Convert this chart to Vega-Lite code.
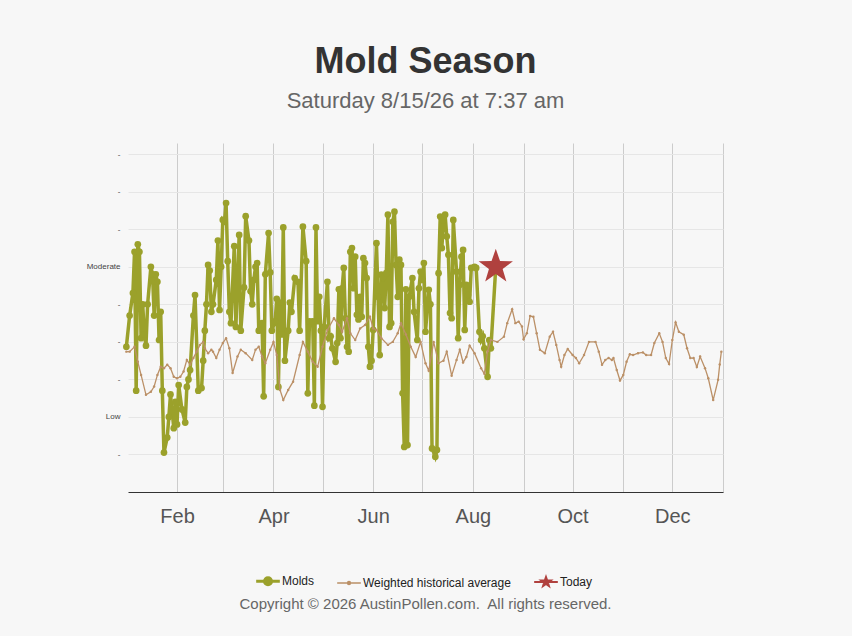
{
  "$schema": "https://vega.github.io/schema/vega-lite/v6.json",
  "background": "#f7f7f7",
  "autosize": "none",
  "padding": {"left": 128, "top": 143, "right": 129, "bottom": 144},
  "width": 595,
  "height": 349,
  "title": {
    "text": "Mold Season",
    "subtitle": "Saturday 8/15/26 at 7:37 am",
    "anchor": "middle",
    "font": "Liberation Sans",
    "fontSize": 36,
    "fontWeight": "bold",
    "color": "#333333",
    "subtitleFont": "Liberation Sans",
    "subtitleFontSize": 22,
    "subtitleColor": "#666666",
    "subtitlePadding": 10,
    "offset": 30
  },
  "datasets": {
    "molds": [
      {"date": "2026/01/01", "v": 3.87}, {"date": "2026/01/03", "v": 4.7}, {"date": "2026/01/05", "v": 5.3},
      {"date": "2026/01/06", "v": 6.4}, {"date": "2026/01/07", "v": 2.7}, {"date": "2026/01/08", "v": 6.6},
      {"date": "2026/01/09", "v": 6.4}, {"date": "2026/01/10", "v": 4.1}, {"date": "2026/01/11", "v": 5.0},
      {"date": "2026/01/12", "v": 4.2}, {"date": "2026/01/13", "v": 3.9}, {"date": "2026/01/14", "v": 5.0},
      {"date": "2026/01/16", "v": 6.0}, {"date": "2026/01/17", "v": 5.8}, {"date": "2026/01/18", "v": 4.7},
      {"date": "2026/01/19", "v": 5.8}, {"date": "2026/01/20", "v": 5.6}, {"date": "2026/01/21", "v": 4.05},
      {"date": "2026/01/22", "v": 4.8}, {"date": "2026/01/23", "v": 2.7}, {"date": "2026/01/24", "v": 1.05},
      {"date": "2026/01/26", "v": 1.45}, {"date": "2026/01/27", "v": 2.0}, {"date": "2026/01/28", "v": 2.6},
      {"date": "2026/01/30", "v": 1.7}, {"date": "2026/01/31", "v": 2.4}, {"date": "2026/02/01", "v": 1.8},
      {"date": "2026/02/02", "v": 2.85}, {"date": "2026/02/04", "v": 2.2}, {"date": "2026/02/06", "v": 1.85},
      {"date": "2026/02/07", "v": 2.8}, {"date": "2026/02/08", "v": 3.0}, {"date": "2026/02/09", "v": 3.25},
      {"date": "2026/02/11", "v": 4.7}, {"date": "2026/02/12", "v": 5.25}, {"date": "2026/02/14", "v": 2.7},
      {"date": "2026/02/16", "v": 2.77}, {"date": "2026/02/17", "v": 3.5}, {"date": "2026/02/18", "v": 4.3},
      {"date": "2026/02/19", "v": 5.0}, {"date": "2026/02/20", "v": 6.05}, {"date": "2026/02/21", "v": 5.9},
      {"date": "2026/02/22", "v": 4.8}, {"date": "2026/02/23", "v": 5.0}, {"date": "2026/02/25", "v": 5.65},
      {"date": "2026/02/26", "v": 6.7}, {"date": "2026/02/27", "v": 4.85}, {"date": "2026/02/28", "v": 6.0},
      {"date": "2026/03/01", "v": 7.25}, {"date": "2026/03/02", "v": 7.2}, {"date": "2026/03/03", "v": 7.7},
      {"date": "2026/03/04", "v": 6.15}, {"date": "2026/03/05", "v": 4.8}, {"date": "2026/03/06", "v": 4.5},
      {"date": "2026/03/08", "v": 6.55}, {"date": "2026/03/09", "v": 4.4}, {"date": "2026/03/11", "v": 6.85},
      {"date": "2026/03/12", "v": 4.3}, {"date": "2026/03/14", "v": 5.45}, {"date": "2026/03/15", "v": 7.35},
      {"date": "2026/03/17", "v": 6.7}, {"date": "2026/03/18", "v": 5.35}, {"date": "2026/03/19", "v": 5.0},
      {"date": "2026/03/20", "v": 5.65}, {"date": "2026/03/21", "v": 6.0}, {"date": "2026/03/22", "v": 6.1},
      {"date": "2026/03/23", "v": 4.3}, {"date": "2026/03/25", "v": 4.5}, {"date": "2026/03/26", "v": 2.55},
      {"date": "2026/03/27", "v": 5.8}, {"date": "2026/03/29", "v": 6.9}, {"date": "2026/03/30", "v": 5.85},
      {"date": "2026/03/31", "v": 4.3}, {"date": "2026/04/02", "v": 4.55}, {"date": "2026/04/03", "v": 5.15},
      {"date": "2026/04/04", "v": 2.8}, {"date": "2026/04/05", "v": 5.05}, {"date": "2026/04/06", "v": 4.2},
      {"date": "2026/04/07", "v": 7.05}, {"date": "2026/04/08", "v": 3.5}, {"date": "2026/04/10", "v": 4.3},
      {"date": "2026/04/11", "v": 5.05}, {"date": "2026/04/12", "v": 4.8}, {"date": "2026/04/14", "v": 5.7},
      {"date": "2026/04/16", "v": 5.6}, {"date": "2026/04/17", "v": 4.3}, {"date": "2026/04/19", "v": 7.07},
      {"date": "2026/04/21", "v": 6.15}, {"date": "2026/04/22", "v": 2.63}, {"date": "2026/04/23", "v": 4.55},
      {"date": "2026/04/25", "v": 4.55}, {"date": "2026/04/26", "v": 2.3}, {"date": "2026/04/27", "v": 7.05},
      {"date": "2026/04/28", "v": 4.55}, {"date": "2026/04/29", "v": 5.2}, {"date": "2026/04/30", "v": 4.3},
      {"date": "2026/05/01", "v": 2.27}, {"date": "2026/05/02", "v": 4.4}, {"date": "2026/05/04", "v": 5.6},
      {"date": "2026/05/05", "v": 4.1}, {"date": "2026/05/06", "v": 4.15}, {"date": "2026/05/07", "v": 3.83},
      {"date": "2026/05/09", "v": 3.47}, {"date": "2026/05/10", "v": 3.97}, {"date": "2026/05/11", "v": 5.4},
      {"date": "2026/05/12", "v": 4.1}, {"date": "2026/05/13", "v": 5.43}, {"date": "2026/05/14", "v": 5.97},
      {"date": "2026/05/15", "v": 4.63}, {"date": "2026/05/16", "v": 3.87}, {"date": "2026/05/17", "v": 3.74},
      {"date": "2026/05/18", "v": 6.4}, {"date": "2026/05/19", "v": 6.5}, {"date": "2026/05/20", "v": 5.43},
      {"date": "2026/05/21", "v": 6.27}, {"date": "2026/05/22", "v": 4.72}, {"date": "2026/05/23", "v": 4.6},
      {"date": "2026/05/24", "v": 5.2}, {"date": "2026/05/25", "v": 4.67}, {"date": "2026/05/26", "v": 6.23},
      {"date": "2026/05/27", "v": 6.1}, {"date": "2026/05/28", "v": 5.7}, {"date": "2026/05/29", "v": 3.87},
      {"date": "2026/05/30", "v": 3.34}, {"date": "2026/05/31", "v": 3.5}, {"date": "2026/06/01", "v": 4.32},
      {"date": "2026/06/03", "v": 6.63}, {"date": "2026/06/04", "v": 5.2}, {"date": "2026/06/05", "v": 3.65},
      {"date": "2026/06/06", "v": 5.79}, {"date": "2026/06/07", "v": 5.7}, {"date": "2026/06/08", "v": 4.9},
      {"date": "2026/06/09", "v": 5.83}, {"date": "2026/06/10", "v": 7.39}, {"date": "2026/06/11", "v": 4.4},
      {"date": "2026/06/12", "v": 4.5}, {"date": "2026/06/13", "v": 7.2}, {"date": "2026/06/14", "v": 7.47},
      {"date": "2026/06/15", "v": 6.05}, {"date": "2026/06/16", "v": 5.2}, {"date": "2026/06/17", "v": 6.19},
      {"date": "2026/06/18", "v": 6.05}, {"date": "2026/06/19", "v": 2.63}, {"date": "2026/06/20", "v": 1.2},
      {"date": "2026/06/21", "v": 5.4}, {"date": "2026/06/22", "v": 1.25}, {"date": "2026/06/23", "v": 5.2},
      {"date": "2026/06/25", "v": 5.7}, {"date": "2026/06/26", "v": 4.8}, {"date": "2026/06/28", "v": 4.05},
      {"date": "2026/06/29", "v": 5.43}, {"date": "2026/06/30", "v": 5.87}, {"date": "2026/07/01", "v": 5.65},
      {"date": "2026/07/02", "v": 6.1}, {"date": "2026/07/03", "v": 4.27}, {"date": "2026/07/05", "v": 5.39},
      {"date": "2026/07/06", "v": 5.0}, {"date": "2026/07/07", "v": 1.16}, {"date": "2026/07/09", "v": 0.94},
      {"date": "2026/07/10", "v": 1.12}, {"date": "2026/07/11", "v": 5.83}, {"date": "2026/07/12", "v": 7.34},
      {"date": "2026/07/13", "v": 6.5}, {"date": "2026/07/14", "v": 7.25}, {"date": "2026/07/15", "v": 7.39},
      {"date": "2026/07/16", "v": 6.81}, {"date": "2026/07/17", "v": 6.32}, {"date": "2026/07/18", "v": 4.77},
      {"date": "2026/07/19", "v": 4.63}, {"date": "2026/07/20", "v": 7.25}, {"date": "2026/07/22", "v": 5.87},
      {"date": "2026/07/23", "v": 4.1}, {"date": "2026/07/24", "v": 5.52}, {"date": "2026/07/25", "v": 6.27},
      {"date": "2026/07/26", "v": 6.45}, {"date": "2026/07/27", "v": 4.32}, {"date": "2026/07/28", "v": 5.52},
      {"date": "2026/07/29", "v": 5.25}, {"date": "2026/07/30", "v": 5.07}, {"date": "2026/07/31", "v": 5.97},
      {"date": "2026/08/02", "v": 6.0}, {"date": "2026/08/03", "v": 5.97}, {"date": "2026/08/05", "v": 4.27},
      {"date": "2026/08/06", "v": 4.05}, {"date": "2026/08/07", "v": 4.15}, {"date": "2026/08/08", "v": 3.83},
      {"date": "2026/08/10", "v": 3.07}, {"date": "2026/08/11", "v": 4.05}, {"date": "2026/08/12", "v": 3.83},
      {"date": "2026/08/15", "v": 6.0}
    ],
    "avg": [
      {"date": "2026/01/01", "v": 3.74}, {"date": "2026/01/03", "v": 3.74}, {"date": "2026/01/06", "v": 3.87},
      {"date": "2026/01/08", "v": 3.47}, {"date": "2026/01/10", "v": 3.12}, {"date": "2026/01/13", "v": 2.59},
      {"date": "2026/01/16", "v": 2.67}, {"date": "2026/01/18", "v": 2.81}, {"date": "2026/01/20", "v": 3.12},
      {"date": "2026/01/22", "v": 3.34}, {"date": "2026/01/24", "v": 3.3}, {"date": "2026/01/26", "v": 3.39},
      {"date": "2026/01/28", "v": 3.3}, {"date": "2026/01/30", "v": 3.07}, {"date": "2026/02/01", "v": 3.03},
      {"date": "2026/02/03", "v": 3.07}, {"date": "2026/02/05", "v": 3.21}, {"date": "2026/02/07", "v": 3.52},
      {"date": "2026/02/09", "v": 3.39}, {"date": "2026/02/11", "v": 3.57}, {"date": "2026/02/13", "v": 3.74},
      {"date": "2026/02/15", "v": 3.92}, {"date": "2026/02/17", "v": 4.0}, {"date": "2026/02/18", "v": 3.83},
      {"date": "2026/02/20", "v": 3.7}, {"date": "2026/02/22", "v": 3.79}, {"date": "2026/02/23", "v": 3.74},
      {"date": "2026/02/25", "v": 3.57}, {"date": "2026/02/27", "v": 3.79}, {"date": "2026/03/01", "v": 3.97},
      {"date": "2026/03/03", "v": 4.1}, {"date": "2026/03/05", "v": 3.83}, {"date": "2026/03/07", "v": 3.17},
      {"date": "2026/03/10", "v": 3.61}, {"date": "2026/03/12", "v": 3.79}, {"date": "2026/03/15", "v": 3.7},
      {"date": "2026/03/19", "v": 3.52}, {"date": "2026/03/21", "v": 3.79}, {"date": "2026/03/23", "v": 3.87},
      {"date": "2026/03/25", "v": 3.61}, {"date": "2026/03/27", "v": 3.43}, {"date": "2026/03/30", "v": 3.79},
      {"date": "2026/04/01", "v": 4.0}, {"date": "2026/04/03", "v": 3.65}, {"date": "2026/04/05", "v": 2.72},
      {"date": "2026/04/07", "v": 2.45}, {"date": "2026/04/10", "v": 2.72}, {"date": "2026/04/13", "v": 2.94},
      {"date": "2026/04/17", "v": 3.65}, {"date": "2026/04/19", "v": 4.0}, {"date": "2026/04/22", "v": 3.74},
      {"date": "2026/04/25", "v": 3.47}, {"date": "2026/04/28", "v": 3.34}, {"date": "2026/05/01", "v": 3.87},
      {"date": "2026/05/04", "v": 4.32}, {"date": "2026/05/08", "v": 4.63}, {"date": "2026/05/11", "v": 4.45},
      {"date": "2026/05/13", "v": 4.27}, {"date": "2026/05/16", "v": 4.63}, {"date": "2026/05/18", "v": 4.23},
      {"date": "2026/05/21", "v": 4.05}, {"date": "2026/05/24", "v": 4.36}, {"date": "2026/05/27", "v": 4.45},
      {"date": "2026/05/30", "v": 4.67}, {"date": "2026/06/01", "v": 4.36}, {"date": "2026/06/03", "v": 4.32},
      {"date": "2026/06/06", "v": 4.1}, {"date": "2026/06/10", "v": 3.92}, {"date": "2026/06/13", "v": 4.0},
      {"date": "2026/06/16", "v": 4.23}, {"date": "2026/06/18", "v": 4.5}, {"date": "2026/06/21", "v": 4.2},
      {"date": "2026/06/24", "v": 3.87}, {"date": "2026/06/27", "v": 3.6}, {"date": "2026/06/30", "v": 4.0},
      {"date": "2026/07/03", "v": 3.43}, {"date": "2026/07/05", "v": 3.23}, {"date": "2026/07/08", "v": 4.0},
      {"date": "2026/07/11", "v": 3.43}, {"date": "2026/07/14", "v": 3.5}, {"date": "2026/07/16", "v": 3.74},
      {"date": "2026/07/19", "v": 3.1}, {"date": "2026/07/22", "v": 3.52}, {"date": "2026/07/24", "v": 3.79},
      {"date": "2026/07/26", "v": 3.45}, {"date": "2026/07/28", "v": 3.6}, {"date": "2026/07/30", "v": 3.9},
      {"date": "2026/08/02", "v": 3.7}, {"date": "2026/08/06", "v": 3.3}, {"date": "2026/08/08", "v": 3.15},
      {"date": "2026/08/10", "v": 3.75}, {"date": "2026/08/12", "v": 4.05}, {"date": "2026/08/16", "v": 4.0},
      {"date": "2026/08/20", "v": 4.14}, {"date": "2026/08/22", "v": 4.5}, {"date": "2026/08/25", "v": 4.87},
      {"date": "2026/08/27", "v": 4.5}, {"date": "2026/08/29", "v": 4.54}, {"date": "2026/08/31", "v": 4.41},
      {"date": "2026/09/01", "v": 4.07}, {"date": "2026/09/03", "v": 4.23}, {"date": "2026/09/05", "v": 4.69},
      {"date": "2026/09/07", "v": 4.67}, {"date": "2026/09/09", "v": 4.23}, {"date": "2026/09/11", "v": 3.79},
      {"date": "2026/09/14", "v": 3.7}, {"date": "2026/09/17", "v": 4.14}, {"date": "2026/09/19", "v": 4.27},
      {"date": "2026/09/21", "v": 3.92}, {"date": "2026/09/23", "v": 3.52}, {"date": "2026/09/24", "v": 3.34},
      {"date": "2026/09/26", "v": 3.65}, {"date": "2026/09/28", "v": 3.81}, {"date": "2026/10/01", "v": 3.65},
      {"date": "2026/10/03", "v": 3.57}, {"date": "2026/10/05", "v": 3.43}, {"date": "2026/10/08", "v": 3.65},
      {"date": "2026/10/11", "v": 4.0}, {"date": "2026/10/15", "v": 4.0}, {"date": "2026/10/17", "v": 3.74},
      {"date": "2026/10/19", "v": 3.39}, {"date": "2026/10/21", "v": 3.52}, {"date": "2026/10/23", "v": 3.57},
      {"date": "2026/10/25", "v": 3.52}, {"date": "2026/10/26", "v": 3.57}, {"date": "2026/10/28", "v": 3.25},
      {"date": "2026/10/30", "v": 2.97}, {"date": "2026/11/01", "v": 3.12}, {"date": "2026/11/03", "v": 3.47},
      {"date": "2026/11/05", "v": 3.67}, {"date": "2026/11/07", "v": 3.65}, {"date": "2026/11/10", "v": 3.7},
      {"date": "2026/11/13", "v": 3.72}, {"date": "2026/11/15", "v": 3.65}, {"date": "2026/11/18", "v": 3.65},
      {"date": "2026/11/20", "v": 3.97}, {"date": "2026/11/23", "v": 4.23}, {"date": "2026/11/25", "v": 4.0},
      {"date": "2026/11/27", "v": 3.57}, {"date": "2026/11/29", "v": 3.41}, {"date": "2026/12/01", "v": 4.05},
      {"date": "2026/12/03", "v": 4.52}, {"date": "2026/12/05", "v": 4.27}, {"date": "2026/12/08", "v": 4.19},
      {"date": "2026/12/10", "v": 3.83}, {"date": "2026/12/12", "v": 3.57}, {"date": "2026/12/14", "v": 3.57},
      {"date": "2026/12/16", "v": 3.33}, {"date": "2026/12/18", "v": 3.61}, {"date": "2026/12/21", "v": 3.3},
      {"date": "2026/12/23", "v": 3.03}, {"date": "2026/12/26", "v": 2.45}, {"date": "2026/12/29", "v": 2.99},
      {"date": "2026/12/30", "v": 3.4}, {"date": "2026/12/31", "v": 3.74}
    ],
    "today": [
      {"date": "2026/08/15", "v": 6.0}
    ]
  },
  "layer": [
    {
      "data": {"name": "molds"},
      "mark": {"type": "line", "strokeWidth": 3.5, "point": {"filled": true, "size": 45, "opacity": 1}},
      "encoding": {
        "x": {
          "field": "date",
          "type": "temporal",
          "scale": {"domain": [{"year": 2026, "month": 1, "date": 2}, {"year": 2027, "month": 1, "date": 1}]},
          "axis": {
            "title": "Copyright © 2026 AustinPollen.com.\u00a0 All rights reserved.",
            "titleFont": "Liberation Sans",
            "titleFontWeight": "normal",
            "titleFontSize": 15,
            "titleColor": "#666666",
            "titleBaseline": "middle",
            "titleY": 111,
            "titleX": 297,
            "values": [
              {"year": 2026, "month": 2, "date": 1}, {"year": 2026, "month": 3, "date": 1},
              {"year": 2026, "month": 4, "date": 1}, {"year": 2026, "month": 5, "date": 1},
              {"year": 2026, "month": 6, "date": 1}, {"year": 2026, "month": 7, "date": 1},
              {"year": 2026, "month": 8, "date": 1}, {"year": 2026, "month": 9, "date": 1},
              {"year": 2026, "month": 10, "date": 1}, {"year": 2026, "month": 11, "date": 1},
              {"year": 2026, "month": 12, "date": 1}, {"year": 2027, "month": 1, "date": 1}
            ],
            "labelExpr": "date(datum.value) == 1 && month(datum.value) % 2 == 1 ? timeFormat(datum.value, '%b') : ''",
            "labelOverlap": false,
            "labelFlush": false,
            "grid": true,
            "gridColor": "#cccccc",
            "ticks": false,
            "domainColor": "#333333",
            "labelFont": "Liberation Sans",
            "labelFontSize": 20,
            "labelColor": "#555555",
            "labelPadding": 14
          }
        },
        "y": {
          "field": "v",
          "type": "quantitative",
          "scale": {"domain": [0, 9.3], "nice": false},
          "axis": {
            "title": null,
            "values": [1, 2, 3, 4, 5, 6, 7, 8, 9],
            "labelExpr": "datum.value == 2 ? 'Low' : datum.value == 6 ? 'Moderate' : '-'",
            "domain": false,
            "ticks": false,
            "gridColor": "#e6e6e6",
            "labelFont": "Liberation Sans",
            "labelFontSize": 8,
            "labelColor": "#444444",
            "labelPadding": 8
          }
        },
        "color": {
          "datum": "Molds",
          "type": "nominal",
          "scale": {
            "domain": ["Molds", "Weighted historical average", "Today"],
            "range": ["#9ba12b", "#bb9067", "#b0413e"]
          },
          "legend": {
            "orient": "none",
            "legendX": 134,
            "legendY": 432,
            "direction": "horizontal",
            "title": null,
            "labelFont": "Liberation Sans",
            "labelFontSize": 12,
            "labelColor": "#222222",
            "labelOffset": 8,
            "columnPadding": 19,
            "symbolSize": 560,
            "symbolType": "M-1,0L1,0",
            "encode": {
              "symbols": {
                "update": {
                  "shape": {"signal": "datum.value === 'Today' ? 'M-1,0L1,0M0,-0.42L0.099,-0.136L0.4,-0.13L0.16,0.052L0.247,0.34L0,0.168L-0.247,0.34L-0.16,0.052L-0.4,-0.13L-0.099,-0.136Z' : datum.value === 'Molds' ? 'M-1,0L1,0M0.3,0A0.3,0.3,0,1,1,-0.3,0A0.3,0.3,0,1,1,0.3,0Z' : 'M-1,0L1,0M0.12,0A0.12,0.12,0,1,1,-0.12,0A0.12,0.12,0,1,1,0.12,0Z'"},
                  "fill": {"scale": "color", "field": "value"},
                  "stroke": {"scale": "color", "field": "value"},
                  "strokeWidth": {"signal": "datum.value === 'Molds' ? 3 : datum.value === 'Today' ? 2 : 1.5"},
                  "opacity": {"value": 1}
                }
              }
            }
          }
        }
      }
    },
    {
      "data": {"name": "avg"},
      "mark": {"type": "line", "strokeWidth": 1.3, "point": {"filled": true, "size": 6}},
      "encoding": {
        "x": {"field": "date", "type": "temporal"},
        "y": {"field": "v", "type": "quantitative"},
        "color": {"datum": "Weighted historical average", "type": "nominal"}
      }
    },
    {
      "data": {"name": "today"},
      "mark": {
        "type": "point",
        "filled": true,
        "opacity": 1,
        "size": 1300,
        "shape": "M0,-1L0.235,-0.324L0.951,-0.309L0.38,0.124L0.588,0.809L0,0.4L-0.588,0.809L-0.38,0.124L-0.951,-0.309L-0.235,-0.324Z"
      },
      "encoding": {
        "x": {"field": "date", "type": "temporal"},
        "y": {"field": "v", "type": "quantitative"},
        "color": {"datum": "Today", "type": "nominal"}
      }
    }
  ],
  "config": {
    "view": {"stroke": null}
  }
}
